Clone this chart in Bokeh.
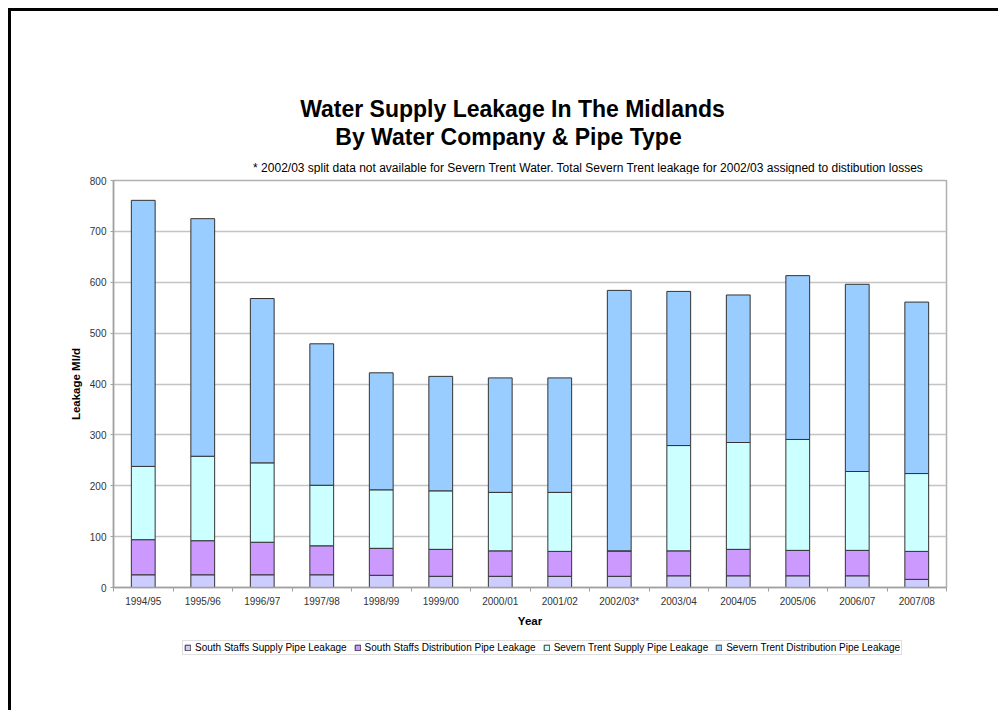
from bokeh.plotting import figure
from bokeh.models import Range1d, FixedTicker, Label
from bokeh.layouts import column
from bokeh.embed import file_html
from bokeh.resources import INLINE

years = ["1994/95", "1995/96", "1996/97", "1997/98", "1998/99", "1999/00", "2000/01",
         "2001/02", "2002/03*", "2003/04", "2004/05", "2005/06", "2006/07", "2007/08"]
ss_supply = [25, 25, 25, 25, 24, 22, 22, 22, 22, 23, 23, 23, 23, 16]
ss_dist = [69, 67, 64, 57, 53, 53, 50, 49, 50, 49, 52, 50, 50, 55]
st_supply = [144, 166, 156, 119, 115, 115, 115, 116, 0, 207, 210, 218, 155, 153]
st_dist = [523, 467, 323, 278, 230, 225, 225, 225, 512, 303, 290, 322, 368, 337]
series_names = ["South Staffs Supply Pipe Leakage", "South Staffs Distribution Pipe Leakage",
                "Severn Trent Supply Pipe Leakage", "Severn Trent Distribution Pipe Leakage"]
colors = ["#CCCCFF", "#CC99FF", "#CCFFFF", "#99CCFF"]
y_ticks = [0, 100, 200, 300, 400, 500, 600, 700, 800]
title_lines = ["Water Supply Leakage In The Midlands", "By Water Company & Pipe Type"]
note = ("* 2002/03 split data not available for Severn Trent Water. "
        "Total Severn Trent leakage for 2002/03 assigned to distibution losses")

FONT = "Liberation Sans"
W = 990
BORDER = "3px solid black"
stack_keys = ["s0", "s1", "s2", "s3"]
xs = list(range(len(years)))
data = dict(x=xs, s0=ss_supply, s1=ss_dist, s2=st_supply, s3=st_dist)


def blank_fig(h):
    f = figure(width=W, height=h, output_backend="svg", toolbar_location=None,
               x_range=Range1d(0, W), y_range=Range1d(0, h),
               x_axis_type=None, y_axis_type=None, title=None,
               min_border_left=0, min_border_right=0, min_border_top=0,
               min_border_bottom=0)
    f.outline_line_color = None
    f.xgrid.visible = False
    f.ygrid.visible = False
    f.border_fill_color = "white"
    f.background_fill_color = "white"
    return f


# ---- title strip (frame is aligned with the chart frame by the column) ----
tf = blank_fig(166)
tf.styles = {"border-left": BORDER, "border-top": BORDER}
tf.add_layout(Label(x=399, y=69, x_units="screen", y_units="screen", text=title_lines[0],
                    text_align="center", text_baseline="alphabetic", text_font=FONT,
                    text_font_size="23px", text_font_style="bold", text_color="black"))
tf.add_layout(Label(x=395, y=41, x_units="screen", y_units="screen", text=title_lines[1],
                    text_align="center", text_baseline="alphabetic", text_font=FONT,
                    text_font_size="23px", text_font_style="bold", text_color="black"))
tf.add_layout(Label(x=810, y=10, x_units="screen", y_units="screen", text=note,
                    text_align="right", text_baseline="alphabetic", text_font=FONT,
                    text_font_size="12px", text_color="black"))

# ---- main chart ----
p = figure(width=W, height=460, output_backend="svg", toolbar_location=None,
           x_range=Range1d(-0.5, len(years) - 0.5), y_range=Range1d(0, 800),
           min_border_left=102, min_border_right=55, min_border_top=6,
           min_border_bottom=47, title=None)
p.styles = {"border-left": BORDER}
p.vbar_stack(stack_keys, x="x", width=0.4, source=data,
             color=colors, line_color="#333333", line_width=1)

p.outline_line_color = "#b0b0b0"
p.outline_line_width = 1.5
p.background_fill_color = "white"
p.border_fill_color = "white"
p.xgrid.visible = False
p.ygrid.grid_line_color = "#c4c4c4"
p.ygrid.grid_line_width = 1.5
p.ygrid.ticker = FixedTicker(ticks=y_ticks)

ya = p.yaxis[0]
ya.ticker = FixedTicker(ticks=y_ticks)
ya.axis_line_color = "#a0a0a0"
ya.axis_line_width = 1.5
ya.major_tick_line_color = "#a0a0a0"
ya.major_tick_out = 3
ya.major_tick_in = 0
ya.minor_tick_line_color = None
ya.major_label_text_font = FONT
ya.major_label_text_font_size = "10px"
ya.major_label_text_color = "#333333"
ya.major_label_standoff = 4
ya.axis_label = "Leakage Ml/d"
ya.axis_label_text_font = FONT
ya.axis_label_text_font_size = "11.5px"
ya.axis_label_text_font_style = "bold"
ya.axis_label_text_color = "black"
ya.axis_label_standoff = 5

xa = p.xaxis[0]
xa.ticker = FixedTicker(ticks=xs, minor_ticks=[i - 0.5 for i in range(len(years) + 1)])
xa.major_label_overrides = {i: y for i, y in enumerate(years)}
xa.axis_line_color = "#a0a0a0"
xa.axis_line_width = 1.5
xa.major_tick_line_color = None
xa.major_tick_out = 0
xa.major_tick_in = 0
xa.minor_tick_line_color = "#a0a0a0"
xa.minor_tick_out = 4
xa.minor_tick_in = 0
xa.major_label_text_font = FONT
xa.major_label_text_font_size = "10px"
xa.major_label_text_color = "#333333"
xa.major_label_standoff = 4
xa.axis_label = "Year"
xa.axis_label_text_font = FONT
xa.axis_label_text_font_size = "11.5px"
xa.axis_label_text_font_style = "bold"
xa.axis_label_text_color = "black"
xa.axis_label_standoff = 5

# ---- legend strip: same series, renderers hidden, only the legend is shown ----
lf = blank_fig(76)
lf.styles = {"border-left": BORDER}
leg_renderers = lf.vbar_stack(stack_keys, x="x", width=0.4, source=data, color=colors,
                              line_color="#333333", line_width=1,
                              legend_label=series_names)
for r in leg_renderers:
    r.visible = False
lg = lf.legend[0]
lg.location = (69, 55)
lg.margin = 0
lg.orientation = "horizontal"
lg.label_text_font = FONT
lg.label_text_font_size = "10px"
lg.label_text_color = "black"
lg.glyph_width = 7
lg.glyph_height = 7
lg.label_height = 9
lg.label_standoff = 4
lg.spacing = 7
lg.padding = 1
lg.border_line_color = "#c0c0c0"
lg.border_line_width = 1
lg.background_fill_alpha = 1
lg.inactive_fill_alpha = 0

layout = column(tf, p, lf, spacing=0, margin=(8, 0, 0, 8))
open("out.html", "w").write(file_html(layout, INLINE))
